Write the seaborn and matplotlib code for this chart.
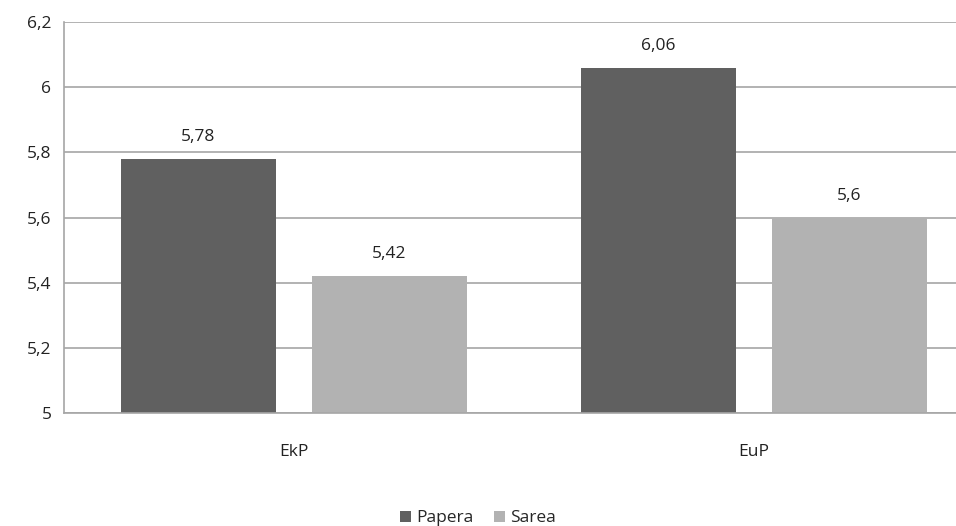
import pandas as pd
import seaborn as sns
import matplotlib.pyplot as plt

categories = ['EkP', 'EuP']
series = ['Papera', 'Sarea']
papera = [5.78, 6.06]
sarea = [5.42, 5.6]
yticks = [5, 5.2, 5.4, 5.6, 5.8, 6, 6.2]

df = pd.DataFrame({
    'cat': categories * 2,
    'serie': [series[0]] * 2 + [series[1]] * 2,
    'val': papera + sarea,
})

sns.set_style('white')
plt.rcParams['font.family'] = ['Open Sans', 'DejaVu Sans']
fs = 12.5

fig = plt.figure(figsize=(9.56, 5.26), dpi=100)
ax = fig.add_axes([64 / 956, 113 / 526, 920 / 956, 391 / 526])
sns.barplot(data=df, x='cat', y='val', hue='serie', order=categories,
            hue_order=series, palette=['#606060', '#b2b2b2'],
            width=0.83, gap=0.19, ax=ax, saturation=1, linewidth=0)

ax.set_ylim(5, 6.2)
ax.set_xlim(-0.5, 1.5)
ax.set_yticks(yticks)
ax.set_yticklabels([f'{t:g}'.replace('.', ',') for t in yticks], fontsize=fs, color='#222222')
ax.yaxis.grid(True, color='#a6a6a6', linewidth=1.2)
ax.set_axisbelow(True)
ax.tick_params(axis='both', length=0, pad=9)
ax.tick_params(axis='x', labelsize=fs, labelcolor='#222222', pad=22)
ax.set_xlabel('')
ax.set_ylabel('')
for side in ['top', 'right']:
    ax.spines[side].set_visible(False)
for side in ['left', 'bottom']:
    ax.spines[side].set_color('#a6a6a6')
    ax.spines[side].set_linewidth(1.2)

for cont in ax.containers:
    ax.bar_label(cont, labels=[f'{v:g}'.replace('.', ',') for v in cont.datavalues],
                 padding=10, fontsize=fs, color='#222222')

handles, labels = ax.get_legend_handles_labels()
ax.legend_.remove()
fig.legend(handles, labels, loc='lower center', bbox_to_anchor=(0.5, -0.03), ncol=2,
           frameon=False, fontsize=fs, handlelength=0.6, handleheight=0.6,
           handletextpad=0.3, columnspacing=1.2)

fig.savefig('out.png', dpi=100)
